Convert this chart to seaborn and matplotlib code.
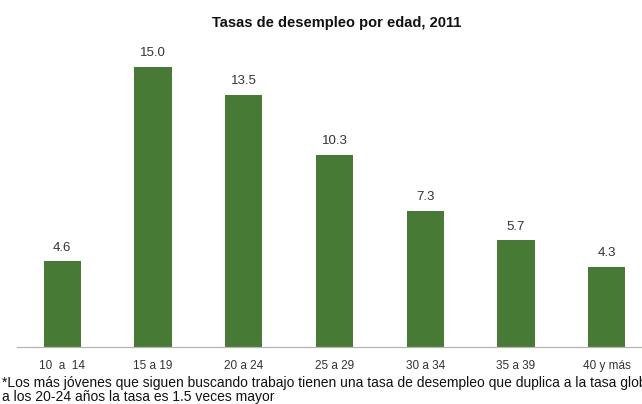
import matplotlib
matplotlib.use("Agg")
import matplotlib.pyplot as plt
import seaborn as sns
import pandas as pd
import numpy as np

# data
categories = ["10  a  14", "15 a 19", "20 a 24", "25 a 29", "30 a 34", "35 a 39", "40 y más"]
values = [4.6, 15.0, 13.5, 10.3, 7.3, 5.7, 4.3]
title = "Tasas de desempleo por edad, 2011"
note_1 = "*Los más jóvenes que siguen buscando trabajo tienen una tasa de desempleo que duplica a la tasa global,"
note_2 = "a los 20-24 años la tasa es 1.5 veces mayor"

bar_color = "#477a35"

sns.set_style("white")
plt.rcParams["font.family"] = ["Liberation Sans", "DejaVu Sans"]

df = pd.DataFrame({"edad": categories, "tasa": values})

fig = plt.figure(figsize=(6.42, 4.04), dpi=100)
# axis runs past the right edge, as in the cropped original
ax = fig.add_axes([17 / 642, 57 / 404, 635 / 642, 327 / 404])

sns.barplot(data=df, x="edad", y="tasa", color=bar_color, width=0.41,
            saturation=1, edgecolor="none", ax=ax)

ax.set_xlim(-0.5, len(categories) - 0.5)
ax.set_ylim(0, 17.5)

for i, v in enumerate(values):
    ax.text(i, v + 0.72, f"{v:.1f}", ha="center", va="center",
            fontsize=9.5, color="#333333")

for s in ["top", "right", "left"]:
    ax.spines[s].set_visible(False)
ax.spines["bottom"].set_color("#b5b5b5")
ax.spines["bottom"].set_linewidth(0.9)

ax.set_yticks([])
ax.set_xlabel("")
ax.set_ylabel("")
ax.set_xticks(range(len(categories)))
ax.set_xticklabels(categories, fontsize=8.5, color="#333333")
# baseline alignment so the accent in "más" does not push it down
for lbl in ax.get_xticklabels():
    lbl.set_verticalalignment("baseline")
ax.tick_params(axis="x", which="major", length=0, pad=15.5)
ax.set_xticks(np.arange(-0.5, len(categories)), minor=True)
ax.tick_params(axis="x", which="minor", length=4, direction="inout",
               color="#b5b5b5", width=0.8)

fig.text(337 / 642, 1 - 23 / 404, title, ha="center", va="center",
         fontsize=10.5, fontweight="bold", color="#111111")
fig.text(2 / 642, 1 - 383 / 404, note_1, ha="left", va="center",
         fontsize=10, color="#111111")
fig.text(2 / 642, 1 - 397 / 404, note_2, ha="left", va="center",
         fontsize=10, color="#111111")

fig.savefig("out.png", dpi=100)
